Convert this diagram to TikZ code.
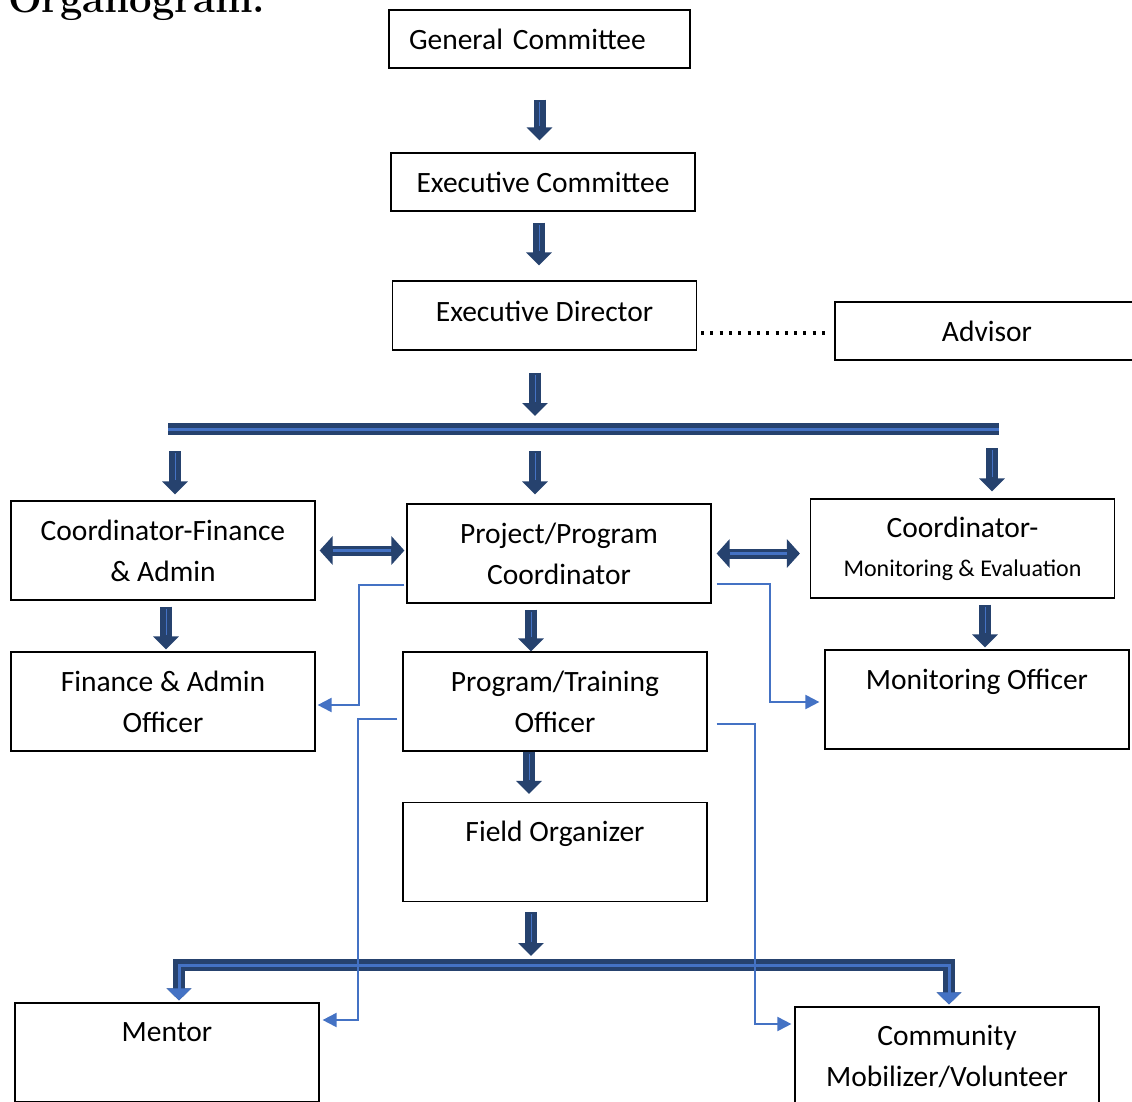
\documentclass[tikz,border=0pt]{standalone}
\usepackage{fontspec}
\newfontfamily\bodyfont{Carlito}
\usetikzlibrary{arrows.meta}
\definecolor{navy}{RGB}{38,66,110}
\definecolor{stripe}{RGB}{68,114,196}

\begin{document}
\begin{tikzpicture}[x=1pt,y=-1pt,
    box/.style={draw, line width=1.2pt, minimum width=304pt, minimum height=99pt,
      inner sep=0pt, align=center, font=\bodyfont\fontsize{29.5}{41}\selectfont},
    blockarrow/.style={draw=navy, line width=12pt, -{Triangle[width=25pt,length=13pt]},
      postaction={draw=stripe, line width=1pt, -, shorten <=2pt, shorten >=14pt}},
    dblarrow/.style={draw=navy, line width=10pt,
      {Triangle[width=28pt,length=13pt]}-{Triangle[width=28pt,length=13pt]},
      postaction={draw=stripe, line width=3pt, -, shorten <=13pt, shorten >=13pt}},
    bar/.style={draw=navy, line width=12pt, line join=miter,
      postaction={draw=stripe, line width=3pt}},
    bararrow/.style={bar, {Triangle[width=24pt,length=12pt]}-{Triangle[width=24pt,length=12pt]},
      postaction={draw=stripe, line width=2pt, -, shorten <=12pt, shorten >=12pt}},
    thinarrow/.style={draw=stripe, line width=2pt, -{Triangle[width=14pt,length=14pt]}}]
  \useasboundingbox (0,0) rectangle (1132,1102);

  % title, cut at the top edge
  \node[anchor=base west, inner sep=0pt, font=\fontsize{40}{42}\selectfont\bfseries] (title) at (8,13) {Organogram:};

  % boxes
  \node[box, minimum width=301pt, minimum height=58pt, text width=261pt, align=left] (gc) at (539.5,39) {General Committee};
  \node[box, minimum height=58pt] (ec) at (543,182) {Executive Committee};
  \node[box, minimum height=69pt] (ed) at (544.5,315.5) {\raisebox{8pt}{Executive Director}};
  \node[box, minimum height=58pt] (adv) at (987,331) {Advisor};
  \node[box] (cfa) at (163,550.5) {Coordinator-Finance\\\& Admin};
  \node[box] (ppc) at (559,553.5) {Project/Program\\Coordinator};
  \node[box] (cme) at (962.5,548.5) {Coordinator-\\[-2pt]{\fontsize{24}{41}\selectfont Monitoring \& Evaluation}};
  \node[box] (fao) at (163,701.5) {Finance \& Admin\\Officer};
  \node[box] (pto) at (555,701.5) {Program/Training\\Officer};
  \node[box] (mo) at (977,699.5) {Monitoring Officer\\\mbox{}};
  \node[box] (fo) at (555,852) {Field Organizer\\\mbox{}};
  \node[box] (men) at (167,1052.5) {Mentor\\\mbox{}};
  \node[box] (cmv) at (947,1056.5) {Community\\Mobilizer/Volunteer};

  % bars
  \coordinate (barL) at (168,429);
  \coordinate (barR) at (999,429);
  \coordinate (barA) at (175,429);
  \coordinate (barB) at (535,429);
  \coordinate (barC) at (992,429);
  \coordinate (botL) at (179,965);
  \coordinate (botR) at (949,965);
  \draw[bar] (barL) -- (barR);

  % block arrows
  \draw[blockarrow] ([yshift=-31pt]gc.south) -- ([yshift=12pt]gc.south |- ec.north);
  \draw[blockarrow] ([xshift=-4pt,yshift=-11pt]ec.south) -- ([xshift=-4pt,yshift=15pt]ec.south |- ed.north);
  \draw[blockarrow] ([yshift=-22pt]ed.south -| barB) -- ([yshift=13pt]barB);
  \draw[blockarrow] ([yshift=-22pt]barA) -- ([yshift=6pt]barA |- cfa.north);
  \draw[blockarrow] ([yshift=-22pt]barB) -- ([yshift=9pt]barB |- ppc.north);
  \draw[blockarrow] ([yshift=-19pt]barC) -- ([yshift=7pt]barC |- cme.north);
  \draw[blockarrow] ([xshift=3pt,yshift=-6pt]cfa.south) -- ([xshift=3pt,yshift=2pt]cfa.south |- fao.north);
  \draw[blockarrow] ([xshift=-28pt,yshift=-6pt]ppc.south) -- ([xshift=-28pt]ppc.south |- pto.north);
  \draw[blockarrow] ([xshift=22.5pt,yshift=-6pt]cme.south) -- ([xshift=22.5pt,yshift=2pt]cme.south |- mo.north);
  \draw[blockarrow] ([xshift=-26pt]pto.south) -- ([xshift=-26pt,yshift=8pt]pto.south |- fo.north);
  \draw[blockarrow] ([xshift=-24pt,yshift=-10pt]fo.south) -- ([xshift=-24pt,yshift=9pt]fo.south |- botL);
  \draw[bararrow] ([yshift=2pt]botL |- men.north) -- (botL) -- (botR) -- ([yshift=2pt]botR |- cmv.north);

  % two-way arrows
  \draw[dblarrow] ([xshift=4pt]cfa.east) -- ([xshift=-2pt]ppc.west |- cfa.east);
  \draw[dblarrow] ([xshift=5pt]ppc.east) -- ([xshift=-10pt]cme.west |- ppc.east);

  % advisor link
  \draw[line width=3.5pt, dash pattern=on 3pt off 6.3pt] ([xshift=4pt,yshift=-17.5pt]ed.east) -- ([xshift=-7pt,yshift=-2pt]adv.west);

  % thin links
  \draw[thinarrow] ([xshift=-2pt,yshift=-31.5pt]ppc.west) -- ++(-45,0) |- ([xshift=2pt,yshift=-3.5pt]fao.east);
  \draw[thinarrow] ([xshift=5pt,yshift=-30.5pt]ppc.east) -- ++(53,0) |- ([xshift=-5pt,yshift=-2.5pt]mo.west);
  \draw[thinarrow] ([xshift=-5pt,yshift=-17.5pt]pto.west) -- ++(-39,0) |- ([xshift=3pt,yshift=32.5pt]men.east);
  \draw[thinarrow] ([xshift=9pt,yshift=-22.5pt]pto.east) -- ++(38,0) |- ([xshift=-3pt,yshift=32.5pt]cmv.west);
\end{tikzpicture}
\end{document}
